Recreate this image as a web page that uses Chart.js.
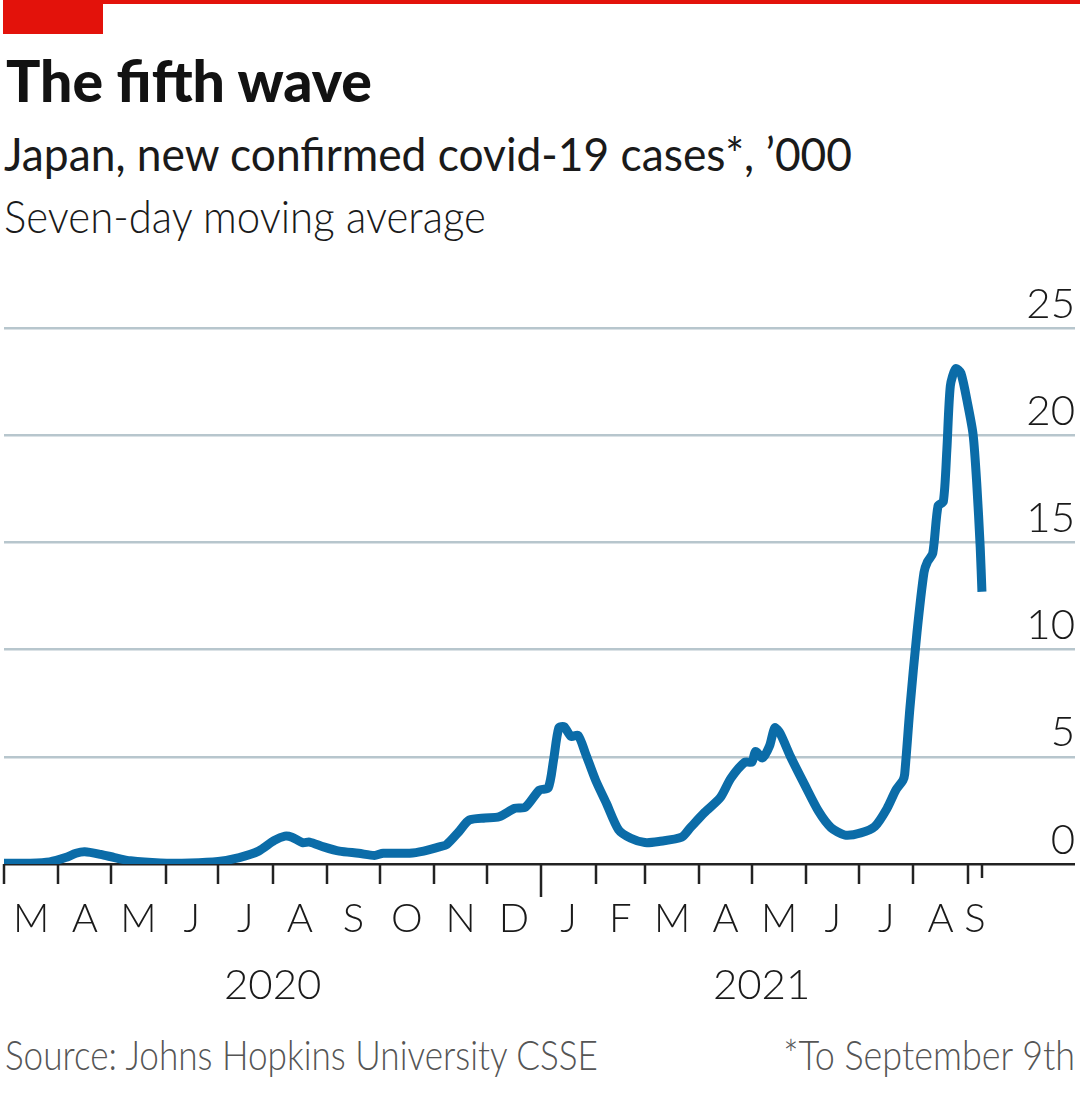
<!DOCTYPE html>
<html>
<head>
<meta charset="utf-8">
<script src="https://cdn.jsdelivr.net/npm/chart.js@4.4.1/dist/chart.umd.min.js"></script>
<style>
  html, body { margin: 0; padding: 0; background: #fff; }
  body { width: 1080px; height: 1107px; position: relative; overflow: hidden; font-family: Lato, sans-serif; color: #1a1a1a; }
  .redline { position: absolute; left: 3px; top: 0; width: 1077px; height: 4px; background: #e3120b; }
  .redbox { position: absolute; left: 3px; top: 0; width: 100px; height: 34px; background: #e3120b; }
  .txt { position: absolute; line-height: 1; white-space: nowrap; transform-origin: left top; }
  #title { left: 6px; top: 52px; font-size: 57px; font-weight: 900; color: #121212; }
  #subtitle { left: 4px; top: 130px; font-size: 47px; font-weight: 400; }
  #note { left: 4px; top: 193px; font-size: 46px; font-weight: 300; }
  #source { left: 5px; top: 1033px; font-size: 42px; font-weight: 300; color: #555; }
  #foot { right: 5px; top: 1033px; font-size: 42px; font-weight: 300; color: #555; transform-origin: right top; }
  #wrap { position: absolute; left: 0; top: 280px; width: 1080px; height: 730px; }
</style>
</head>
<body>
<div class="redline"></div>
<div class="redbox"></div>
<div class="txt" id="title">The fifth wave</div>
<div class="txt" id="subtitle">Japan, new confirmed covid-19 cases*, ’000</div>
<div class="txt" id="note">Seven-day moving average</div>
<div id="wrap"><canvas id="chart" width="1080" height="730"></canvas></div>
<div class="txt" id="source">Source: Johns Hopkins University CSSE</div>
<div class="txt" id="foot">*To September 9th</div>

<script>
// seven-day average of new cases, thousands
const dates = [
  '2020-03-01', '2020-03-16', '2020-03-27', '2020-04-05', '2020-04-11', '2020-04-16',
  '2020-04-25', '2020-05-03', '2020-05-12', '2020-05-29', '2020-06-15', '2020-07-01',
  '2020-07-13', '2020-07-24', '2020-08-02', '2020-08-08', '2020-08-12', '2020-08-18',
  '2020-08-22', '2020-08-30', '2020-09-08', '2020-09-19', '2020-09-28', '2020-10-03',
  '2020-10-18', '2020-10-26', '2020-11-04', '2020-11-08', '2020-11-15', '2020-11-21',
  '2020-11-30', '2020-12-08', '2020-12-17', '2020-12-23', '2020-12-31', '2021-01-05',
  '2021-01-08', '2021-01-11', '2021-01-14', '2021-01-18', '2021-01-22', '2021-01-26',
  '2021-02-01', '2021-02-07', '2021-02-14', '2021-02-21', '2021-03-01', '2021-03-09',
  '2021-03-22', '2021-03-27', '2021-04-04', '2021-04-13', '2021-04-19', '2021-04-27',
  '2021-05-01', '2021-05-03', '2021-05-07', '2021-05-11', '2021-05-14', '2021-05-17',
  '2021-05-23', '2021-05-31', '2021-06-08', '2021-06-15', '2021-06-23', '2021-07-02',
  '2021-07-10', '2021-07-17', '2021-07-22', '2021-07-26', '2021-07-27', '2021-07-30',
  '2021-08-03', '2021-08-07', '2021-08-09', '2021-08-12', '2021-08-15', '2021-08-18',
  '2021-08-20', '2021-08-22', '2021-08-25', '2021-08-28', '2021-09-01', '2021-09-04',
  '2021-09-06', '2021-09-08', '2021-09-09'
];
const cases = [
  0.03, 0.04, 0.1, 0.3, 0.5, 0.57,
  0.45, 0.3, 0.15, 0.05, 0.05, 0.12,
  0.3, 0.6, 1.1, 1.3, 1.25, 1.0,
  1.02, 0.8, 0.6, 0.5, 0.4, 0.5,
  0.5, 0.6, 0.8, 0.9, 1.5, 2.05,
  2.15, 2.2, 2.6, 2.65, 3.45, 3.55,
  4.85, 6.35, 6.4, 5.95, 6.0, 5.2,
  3.9, 2.85, 1.6, 1.2, 1.0, 1.05,
  1.25, 1.7, 2.4, 3.1, 4.0, 4.75,
  4.75, 5.25, 4.95, 5.5, 6.35, 6.1,
  5.0, 3.7, 2.45, 1.7, 1.35, 1.45,
  1.75, 2.6, 3.45, 3.9, 4.2, 7.3,
  10.8, 13.6, 14.1, 14.5, 16.7, 16.9,
  19.3, 22.3, 23.1, 22.9, 21.4, 20.0,
  17.8, 14.8, 12.7
];

const monthStarts = [
  '2020-03-01', '2020-04-01', '2020-05-01', '2020-06-01', '2020-07-01', '2020-08-01',
  '2020-09-01', '2020-10-01', '2020-11-01', '2020-12-01', '2021-01-01', '2021-02-01',
  '2021-03-01', '2021-04-01', '2021-05-01', '2021-06-01', '2021-07-01', '2021-08-01',
  '2021-09-01'
];
const monthLabels = ['M', 'A', 'M', 'J', 'J', 'A', 'S', 'O', 'N', 'D', 'J', 'F', 'M', 'A', 'M', 'J', 'J', 'A', 'S'];
const dataEnd = '2021-09-09';
const yearLabels = ['2020', '2021'];
const yearStarts = ['2020-03-01', '2021-01-01'];
const yTicks = [0, 5, 10, 15, 20, 25];

const origin = Date.UTC(2020, 2, 1);
function dayOf(s) {
  const [y, m, d] = s.split('-').map(Number);
  return (Date.UTC(y, m - 1, d) - origin) / 86400000;
}

const startDays = monthStarts.map(dayOf);
const endDay = dayOf(dataEnd);
const bounds = startDays.concat([endDay]);
const midDays = monthLabels.map((_, i) => (bounds[i] + bounds[i + 1]) / 2);

const ink = '#1a1a1a';
const tickFont = { family: 'Lato', size: 40, weight: '300' };

// month tick marks and year labels under the axis
const axisMarks = {
  id: 'axisMarks',
  afterDraw(chart) {
    const { ctx, chartArea, scales: { x } } = chart;
    const base = chartArea.bottom;
    ctx.save();
    ctx.strokeStyle = '#222';
    ctx.lineWidth = 2.5;
    const marks = startDays.map((d, i) => [d, monthStarts[i] === '2021-01-01' ? 33 : 20]);
    marks.push([endDay, 14]);
    marks.forEach(([d, len]) => {
      const px = Math.round(x.getPixelForValue(d));
      ctx.beginPath();
      ctx.moveTo(px, base);
      ctx.lineTo(px, base + len);
      ctx.stroke();
    });
    ctx.fillStyle = ink;
    ctx.font = '300 42px Lato';
    ctx.textAlign = 'center';
    ctx.textBaseline = 'middle';
    const yearEnds = [dayOf('2021-01-01'), endDay];
    yearLabels.forEach((t, i) => {
      const cx = (x.getPixelForValue(dayOf(yearStarts[i])) + x.getPixelForValue(yearEnds[i])) / 2;
      ctx.fillText(t, cx, base + 121);
    });
    ctx.restore();
  }
};

const noPad = (s) => { s.paddingLeft = 0; s.paddingRight = 0; s.paddingTop = 0; s.paddingBottom = 0; };

new Chart(document.getElementById('chart'), {
  type: 'line',
  data: {
    datasets: [{
      data: dates.map((d, i) => ({ x: dayOf(d), y: cases[i] })),
      borderColor: '#0b6ca8',
      borderWidth: 9,
      borderJoinStyle: 'round',
      borderCapStyle: 'butt',
      pointRadius: 0,
      tension: 0.25,
      fill: false
    }]
  },
  options: {
    responsive: false,
    animation: false,
    layout: { padding: { top: 48, left: 4, right: 5, bottom: 36 } },
    plugins: { legend: { display: false }, tooltip: { enabled: false } },
    scales: {
      x: {
        type: 'linear',
        min: 0,
        max: 610,
        afterBuildTicks: (s) => { s.ticks = midDays.map(v => ({ value: v })); },
        afterFit: noPad,
        grid: { display: false, drawTicks: false },
        border: { display: false },
        ticks: {
          callback: (v, i) => monthLabels[i],
          autoSkip: false,
          maxRotation: 0,
          minRotation: 0,
          padding: 31,
          color: ink,
          font: tickFont
        }
      },
      y: {
        position: 'right',
        min: 0,
        max: 25,
        afterBuildTicks: (s) => { s.ticks = yTicks.map(v => ({ value: v })); },
        afterFit: noPad,
        grid: {
          color: (c) => (c.tick && c.tick.value === 0 ? '#222' : '#b7c6cd'),
          lineWidth: 2.5,
          drawTicks: false
        },
        border: { display: false },
        ticks: {
          mirror: true,
          padding: 0,
          labelOffset: -24,
          color: ink,
          font: { family: 'Lato', size: 42, weight: '300' }
        }
      }
    }
  },
  plugins: [axisMarks]
});

// squeeze headline texts to the reference widths
function fitText(id, width) {
  const el = document.getElementById(id);
  const w = el.getBoundingClientRect().width;
  el.style.transform = 'scaleX(' + (width / w) + ')';
}
fitText('title', 366);
fitText('subtitle', 848);
fitText('note', 482);
fitText('source', 593);
fitText('foot', 292);
</script>
</body>
</html>
